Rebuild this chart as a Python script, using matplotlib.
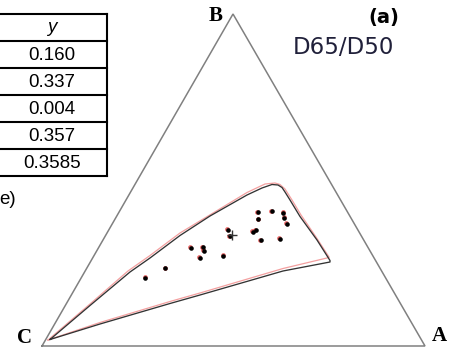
import numpy as np
import matplotlib
matplotlib.use('Agg')
import matplotlib.pyplot as plt
import matplotlib.transforms as mtransforms

# ternary frame (picture coordinates, y grows downwards)
tri_x = [42, 233, 425, 42]
tri_y = [346, 14, 346, 346]
corner_names = ['C', 'B', 'A']
corner_x = [25, 216, 439]
corner_y = [338, 16, 336]

# gamut boundary, first illuminant (black)
gam_x = [50, 90, 130, 150, 180, 210, 247, 262, 272, 278, 282, 285, 290, 300, 317, 330,
         330, 283, 200, 170, 100, 50]
gam_y = [339.5, 305.5, 272, 258, 235.5, 216, 195, 188, 184.5, 185, 187.5, 192, 200, 216.5, 240, 260.5,
         262, 271, 295, 303.5, 324, 339.5]

# gamut boundary, second illuminant (red)
gam2_x = [48, 90, 128, 150, 180, 247, 265, 275, 280, 285, 292, 301, 316, 329,
          329, 283, 200, 170, 100, 48]
gam2_y = [340, 304, 271, 255.5, 233, 192.5, 184, 183, 184.5, 189, 200, 215, 237, 257,
          257.5, 268.5, 293, 301.5, 322.5, 340]

# sample chromaticities
pts_x = [257.7, 272, 283.3, 284.3, 258.3, 286.7, 227.7, 230, 256, 252.7, 261, 280,
         190.7, 202.7, 204, 223.3, 200, 165.3, 145.3]
pts_y = [212, 211, 212.7, 217.7, 219, 223.7, 229.7, 236, 230.3, 231.7, 240.3, 238.7,
         247.7, 247.3, 250.7, 255.7, 257.7, 268, 277.7]
white_x = [231.7]
white_y = [235.3]

# table fragment
table_header = 'y'
table_values = ['0.160', '0.337', '0.004', '0.357', '0.3585']

fig = plt.figure(figsize=(4.62, 3.54), dpi=100)
ax = fig.add_axes([0, 0, 1, 1])
ax.set_xlim(0, 462)
ax.set_ylim(354, 0)
ax.axis('off')

ax.plot(tri_x, tri_y, color='#808080', lw=1.1, solid_joinstyle='miter')

ax.plot(gam2_x, gam2_y, color='#f08080', lw=0.9, alpha=0.75)
ax.plot(gam_x, gam_y, color='#333333', lw=0.95)

shift = mtransforms.offset_copy(ax.transData, fig=fig, x=-0.5, y=0.3, units='points')
ax.plot(pts_x, pts_y, 'o', color='#e04040', ms=3.4, mew=0, alpha=0.8, transform=shift)
ax.plot(pts_x, pts_y, 'o', color='black', ms=3.3, mew=0)
ax.plot(white_x, white_y, '+', color='#333333', ms=7, mew=1.0)

for name, x, y in zip(corner_names, corner_x, corner_y):
    ax.text(x, y, name, ha='center', va='center', fontsize=15, fontweight='bold',
            family='Liberation Serif', color='black')

ax.text(384, 18, '(a)', ha='center', va='center', fontsize=14, fontweight='bold',
        family='DejaVu Sans', color='black')
ax.text(293, 47, 'D65/D50', ha='left', va='center', fontsize=16.5,
        family='DejaVu Sans', color='#20203a')

# table
row_h = 27
top = 14
left, right = -3, 107
n_rows = len(table_values) + 1
for i in range(n_rows + 1):
    ax.plot([left, right], [top + i * row_h] * 2, color='black', lw=1.5)
ax.plot([right, right], [top, top + n_rows * row_h], color='black', lw=1.5)
cx = (left + right) / 2
ax.text(cx, top + row_h / 2, table_header, ha='center', va='center', fontsize=13.5,
        style='italic', family='Liberation Sans')
for i, v in enumerate(table_values):
    ax.text(cx, top + (i + 1.5) * row_h + 1, v, ha='center', va='center', fontsize=13.5,
            family='Liberation Sans')
ax.text(-1, 199, 'e)', ha='left', va='center', fontsize=13.5, family='Liberation Sans')

fig.savefig('out.png', dpi=100)
